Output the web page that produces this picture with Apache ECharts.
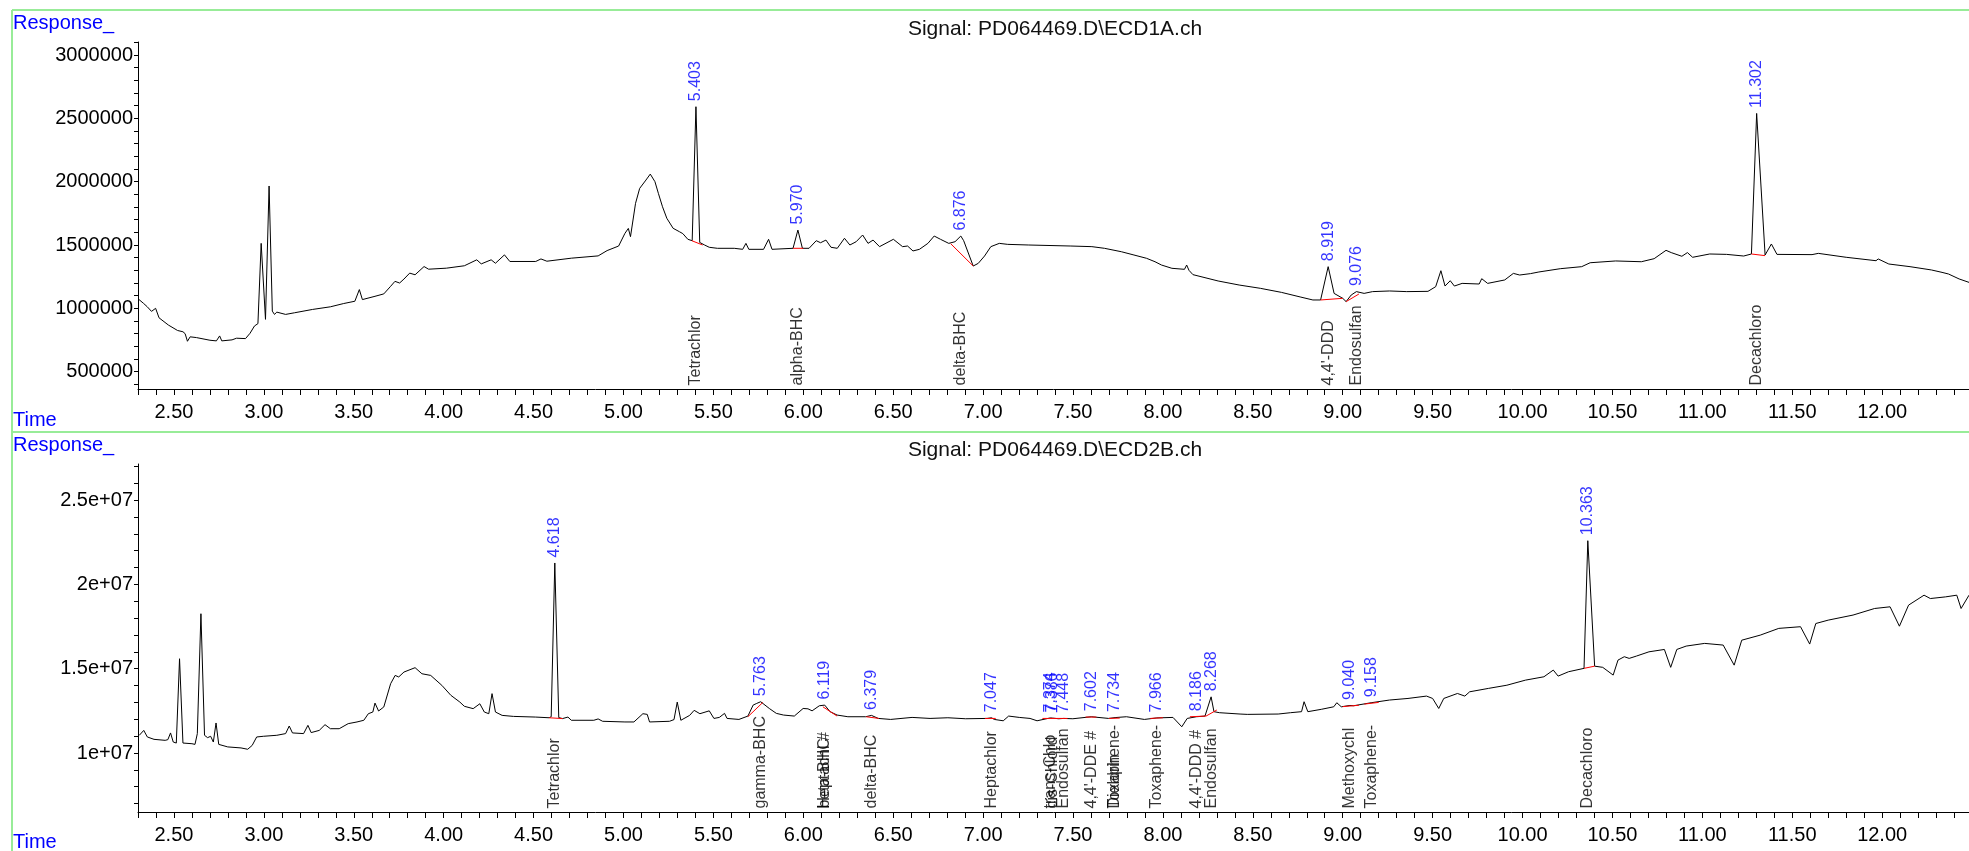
<!DOCTYPE html>
<html><head><meta charset="utf-8">
<script src="https://cdn.jsdelivr.net/npm/echarts@6/dist/echarts.min.js"></script>
<style>html,body{margin:0;padding:0;background:#fff}#c{width:1969px;height:851px}</style>
</head><body><div id="c"></div>
<script>
// ---------- Signal 1: ECD1A ----------
const t1 = [2.305,2.330,2.351,2.375,2.398,2.417,2.469,2.520,2.550,2.562,2.575,2.590,2.625,2.700,2.736,2.754,2.766,2.823,2.848,2.898,2.923,2.948,2.967,2.985,3.009,3.029,3.047,3.059,3.072,3.121,3.171,3.270,3.370,3.444,3.506,3.531,3.548,3.618,3.667,3.705,3.729,3.755,3.779,3.811,3.841,3.891,3.916,4.015,4.115,4.184,4.209,4.264,4.288,4.338,4.368,4.512,4.541,4.574,4.710,4.859,4.909,4.973,5.008,5.027,5.039,5.067,5.090,5.125,5.149,5.175,5.194,5.217,5.241,5.276,5.311,5.330,5.358,5.382,5.403,5.424,5.451,5.477,5.522,5.616,5.663,5.681,5.697,5.779,5.807,5.826,5.943,5.970,5.995,6.032,6.072,6.096,6.126,6.154,6.189,6.229,6.259,6.294,6.330,6.360,6.388,6.424,6.501,6.552,6.580,6.610,6.646,6.693,6.728,6.763,6.809,6.844,6.876,6.892,6.945,6.973,7.008,7.043,7.090,7.137,7.254,7.488,7.605,7.675,7.769,7.839,7.909,7.956,7.992,8.050,8.120,8.132,8.145,8.167,8.307,8.424,8.542,8.659,8.763,8.834,8.877,8.919,8.952,9.000,9.019,9.047,9.076,9.119,9.166,9.261,9.356,9.474,9.517,9.546,9.569,9.598,9.621,9.664,9.759,9.773,9.806,9.901,9.949,9.984,10.044,10.091,10.210,10.329,10.376,10.518,10.661,10.732,10.798,10.827,10.886,10.917,10.946,11.041,11.135,11.230,11.273,11.302,11.349,11.384,11.415,11.610,11.645,11.800,11.966,11.978,12.037,12.155,12.274,12.333,12.369,12.428,12.483];
const r1 = [1070000,1040000,1013000,976000,1000000,925000,868000,825000,815000,800000,740000,775000,769000,748000,743000,782000,743000,751000,764000,761000,803000,861000,879000,1513000,913000,1966000,978000,952000,970000,952000,965000,991000,1012000,1038000,1056000,1148000,1069000,1095000,1114000,1174000,1213000,1200000,1231000,1278000,1265000,1330000,1309000,1317000,1336000,1383000,1351000,1383000,1356000,1422000,1370000,1370000,1390000,1372000,1396000,1414000,1456000,1492000,1592000,1631000,1566000,1829000,1947000,2013000,2060000,2000000,1908000,1802000,1711000,1632000,1605000,1590000,1545000,1534000,2592000,1520000,1500000,1482000,1474000,1474000,1466000,1513000,1466000,1466000,1545000,1466000,1474000,1618000,1474000,1474000,1534000,1518000,1539000,1482000,1474000,1553000,1500000,1526000,1579000,1513000,1539000,1487000,1545000,1487000,1492000,1453000,1466000,1513000,1571000,1545000,1513000,1526000,1571000,1534000,1334000,1355000,1413000,1487000,1513000,1505000,1500000,1492000,1487000,1474000,1447000,1421000,1395000,1368000,1342000,1316000,1308000,1342000,1300000,1266000,1216000,1184000,1158000,1126000,1090000,1066000,1066000,1329000,1118000,1079000,1053000,1105000,1132000,1118000,1132000,1137000,1132000,1134000,1171000,1297000,1176000,1218000,1176000,1197000,1192000,1234000,1197000,1224000,1276000,1263000,1274000,1287000,1313000,1329000,1360000,1374000,1368000,1392000,1458000,1440000,1411000,1440000,1403000,1429000,1426000,1413000,1429000,2539000,1421000,1508000,1426000,1424000,1434000,1403000,1376000,1390000,1350000,1329000,1303000,1284000,1271000,1232000,1205000];
const peakRt1 = [5.403,5.970,6.876,8.919,9.076,11.302];
const peakH1 = [2592000,1618000,1571000,1329000,1132000,2539000];
const peakName1 = ["Tetrachlor","alpha-BHC","delta-BHC","4,4'-DDD","Endosulfan","Decachloro"];
const base1T0 = [5.380,5.943,6.820,8.877,9.019,11.273];
const base1V0 = [1534000,1474000,1510000,1066000,1053000,1429000];
const base1T1 = [5.440,6.000,6.945,9.000,9.090,11.349];
const base1V1 = [1500000,1474000,1334000,1079000,1113000,1416000];

// ---------- Signal 2: ECD2B ----------
const t2 = [2.307,2.332,2.352,2.389,2.451,2.466,2.481,2.496,2.513,2.531,2.550,2.600,2.617,2.630,2.650,2.670,2.687,2.704,2.719,2.734,2.749,2.799,2.873,2.910,2.935,2.960,2.997,3.072,3.121,3.141,3.159,3.221,3.245,3.263,3.308,3.340,3.370,3.419,3.469,3.518,3.556,3.581,3.606,3.618,3.638,3.667,3.705,3.730,3.750,3.779,3.841,3.879,3.928,3.990,4.040,4.090,4.115,4.164,4.201,4.226,4.251,4.269,4.288,4.325,4.388,4.512,4.586,4.598,4.618,4.640,4.661,4.691,4.710,4.835,4.859,4.884,5.008,5.058,5.108,5.132,5.145,5.256,5.281,5.299,5.319,5.368,5.393,5.425,5.477,5.503,5.533,5.562,5.576,5.642,5.692,5.721,5.741,5.763,5.811,5.850,5.890,5.950,5.999,6.026,6.049,6.089,6.119,6.128,6.149,6.188,6.248,6.347,6.379,6.417,6.486,6.605,6.705,6.804,6.903,7.022,7.047,7.062,7.112,7.142,7.201,7.261,7.300,7.374,7.386,7.420,7.448,7.499,7.602,7.698,7.734,7.797,7.897,7.966,8.056,8.105,8.135,8.186,8.234,8.268,8.284,8.314,8.429,8.469,8.641,8.710,8.771,8.785,8.806,8.881,8.950,8.967,8.992,9.040,9.060,9.158,9.260,9.363,9.466,9.500,9.534,9.562,9.638,9.679,9.706,9.810,9.913,10.016,10.119,10.171,10.198,10.256,10.342,10.363,10.401,10.446,10.504,10.531,10.566,10.593,10.634,10.703,10.789,10.824,10.858,10.910,11.013,11.116,11.177,11.219,11.322,11.425,11.546,11.597,11.631,11.700,11.838,11.958,12.044,12.096,12.147,12.233,12.268,12.353,12.415,12.439,12.483];
const r2 = [11047000,11340000,10950000,10810000,10750000,10790000,11190000,10650000,10590000,15590000,10590000,10550000,10510000,11150000,18260000,11050000,10910000,10990000,10650000,11780000,10510000,10360000,10300000,10220000,10450000,10950000,10990000,11050000,11150000,11600000,11190000,11150000,11640000,11210000,11340000,11680000,11440000,11440000,11740000,11840000,11940000,12330000,12430000,12960000,12490000,12730000,14110000,14600000,14510000,14800000,15060000,14700000,14600000,14010000,13420000,13020000,12770000,12630000,12920000,12430000,12330000,13520000,12430000,12230000,12170000,12130000,12090000,12150000,21270000,12100000,12040000,12130000,11940000,11940000,12020000,11880000,11840000,11840000,12330000,12290000,11840000,11880000,11980000,13020000,11940000,12230000,12530000,12330000,12500000,12050000,12110000,12350000,12050000,11990000,12190000,12840000,12940000,13040000,12640000,12350000,12250000,12190000,12640000,12620000,12500000,12800000,12840000,12780000,12450000,12250000,12150000,12150000,12230000,12050000,11990000,12110000,12050000,12090000,12030000,12050000,12090000,11990000,11910000,12190000,12110000,12050000,11910000,12080000,12070000,12030000,12050000,12030000,12150000,12050000,12100000,12150000,11990000,12080000,12110000,11555000,12050000,12150000,12190000,13330000,12450000,12390000,12310000,12290000,12310000,12390000,12450000,13040000,12450000,12590000,12740000,12980000,12740000,12820000,12800000,12980000,13140000,13235000,13375000,13235000,12640000,13235000,13530000,13375000,13630000,13830000,14020000,14320000,14520000,14917000,14560000,14820000,15020000,22590000,15150000,15080000,14620000,15510000,15710000,15610000,15750000,16000000,16140000,15080000,16140000,16340000,16500000,16400000,15210000,16690000,16990000,17390000,17490000,16460000,17680000,17880000,18180000,18570000,18670000,17520000,18770000,19360000,19160000,19260000,19360000,18570000,19360000];
const peakRt2 = [4.618,5.763,6.119,6.379,7.047,7.374,7.386,7.448,7.602,7.734,7.966,8.186,8.268,9.040,9.158,10.363];
const peakH2 = [21270000,13040000,12840000,12230000,12090000,12080000,12070000,12050000,12150000,12100000,12080000,12150000,13330000,12820000,12980000,22590000];
const nameRt2 = [4.618,5.763,6.119,6.119,6.379,7.047,7.374,7.386,7.448,7.602,7.734,7.734,7.966,8.186,8.268,9.040,9.158,10.363];
const name2 = ["Tetrachlor","gamma-BHC","beta-BHC","Heptachl #","delta-BHC","Heptachlor","trans-Chlo","cis-Chlord","Endosulfan","4,4'-DDE #","Dieldrin","Toxaphene-","Toxaphene-","4,4'-DDD #","Endosulfan","Methoxychl","Toxaphene-","Decachloro"];
const base2T0 = [4.586,5.692,6.109,6.350,7.010,7.330,7.570,7.700,7.930,8.150,8.240,9.000,9.120,10.342];
const base2V0 = [12090000,12150000,12740000,12150000,12050000,12050000,12130000,12050000,12050000,12150000,12190000,12750000,12900000,15020000];
const base2T1 = [4.661,5.775,6.188,6.420,7.070,7.470,7.630,7.760,8.000,8.240,8.300,9.090,9.200,10.401];
const base2V1 = [12040000,13000000,12190000,12050000,12050000,12050000,12130000,12070000,12090000,12190000,12550000,12830000,13000000,15150000];

// ---------- Axes ticks ----------
const xLabelVals = [2.5,3.0,3.5,4.0,4.5,5.0,5.5,6.0,6.5,7.0,7.5,8.0,8.5,9.0,9.5,10.0,10.5,11.0,11.5,12.0];
const y1LabelVals = [500000,1000000,1500000,2000000,2500000,3000000];
const y2LabelVals = [10000000,15000000,20000000,25000000];

const X_MIN = 2.30, X_MAX = 12.483;
const Y1_MIN = 363000, Y1_MAX = 3103000;
const Y2_MIN = 6500000, Y2_MAX = 27140000;
const FONT = "'Liberation Sans', Arial, sans-serif";

const xTickVals = []; for (let i = 23; i <= 124; i++) xTickVals.push(i / 10);
const y1TickVals = []; for (let v = 400000; v <= 3100000; v += 100000) y1TickVals.push(v);
const y2TickVals = []; for (let v = 7000000; v <= 27000000; v += 1000000) y2TickVals.push(v);

function mkX(gi) {
  return {type:'value', gridIndex:gi, min:X_MIN, max:X_MAX,
    axisLine:{show:true, onZero:false, lineStyle:{color:'#000', width:1}},
    axisTick:{show:true, length:6, customValues:xTickVals, lineStyle:{color:'#000', width:1}},
    axisLabel:{customValues:xLabelVals, formatter:v => v.toFixed(2), fontSize:20, color:'#000', margin:13, fontFamily:FONT},
    splitLine:{show:false}};
}
function mkY(gi, mn, mx, ticks, labels, fmt) {
  return {type:'value', gridIndex:gi, min:mn, max:mx,
    axisLine:{show:true, onZero:false, lineStyle:{color:'#000', width:1}},
    axisTick:{show:true, length:4, customValues:ticks, lineStyle:{color:'#000', width:1}},
    axisLabel:{customValues:labels, formatter:fmt, fontSize:20, color:'#000', margin:5, fontFamily:FONT},
    splitLine:{show:false}};
}

const series = [];
function labelSeries(idx, pts, texts, dist, color) {
  return {type:'scatter', xAxisIndex:idx, yAxisIndex:idx, symbolSize:1, silent:true, clip:false, z:4,
    itemStyle:{color:'rgba(0,0,0,0)'},
    data: pts.map((p,i)=>({value:p, label:{formatter:texts[i]}})),
    label:{show:true, position:'top', distance:dist, rotate:90, align:'left', verticalAlign:'middle',
      color:color, fontSize:16, fontFamily:FONT}};
}
function addPanel(idx, t, r, rts, hs, nrts, names, yMin, b0t, b0v, b1t, b1v) {
  series.push({type:'line', xAxisIndex:idx, yAxisIndex:idx, data:t.map((x,i)=>[x, r[i]]),
    showSymbol:false, symbol:'none', silent:true, z:2, lineStyle:{color:'#000', width:1}});
  for (let i = 0; i < b0t.length; i++) {
    series.push({type:'line', xAxisIndex:idx, yAxisIndex:idx, data:[[b0t[i], b0v[i]],[b1t[i], b1v[i]]],
      showSymbol:false, symbol:'none', silent:true, z:3, lineStyle:{color:'#ff0000', width:1}});
  }
  series.push(labelSeries(idx, rts.map((x,i)=>[x, hs[i]]), rts.map(x=>x.toFixed(3)), 5, '#0000ff'));
  series.push(labelSeries(idx, nrts.map(x=>[x, yMin]), names, 3, '#000'));
}
addPanel(0, t1, r1, peakRt1, peakH1, peakRt1, peakName1, Y1_MIN, base1T0, base1V0, base1T1, base1V1);
addPanel(1, t2, r2, peakRt2, peakH2, nameRt2, name2, Y2_MIN, base2T0, base2V0, base2T1, base2V1);

const green = '#98ec98';
const option = {
  animation:false,
  backgroundColor:'#fff',
  grid:[{left:138, top:42, right:0, height:347}, {left:138, top:464, right:0, height:348}],
  xAxis:[mkX(0), mkX(1)],
  yAxis:[mkY(0, Y1_MIN, Y1_MAX, y1TickVals, y1LabelVals, v => String(v)),
         mkY(1, Y2_MIN, Y2_MAX, y2TickVals, y2LabelVals, v => (v/1e7) + 'e+07')],
  series: series,
  graphic:[
    {type:'line', silent:true, shape:{x1:12,y1:10,x2:1969,y2:10}, style:{stroke:green, lineWidth:2}},
    {type:'line', silent:true, shape:{x1:12,y1:10,x2:12,y2:851}, style:{stroke:green, lineWidth:2}},
    {type:'line', silent:true, shape:{x1:12,y1:432,x2:1969,y2:432}, style:{stroke:green, lineWidth:2}},
    {type:'text', silent:true, x:13, y:23, style:{text:'Response_', fill:'#0000ff', fontSize:20, fontFamily:FONT, align:'left', verticalAlign:'middle'}},
    {type:'text', silent:true, x:13, y:420, style:{text:'Time', fill:'#0000ff', fontSize:20, fontFamily:FONT, align:'left', verticalAlign:'middle'}},
    {type:'text', silent:true, x:13, y:445, style:{text:'Response_', fill:'#0000ff', fontSize:20, fontFamily:FONT, align:'left', verticalAlign:'middle'}},
    {type:'text', silent:true, x:13, y:842, style:{text:'Time', fill:'#0000ff', fontSize:20, fontFamily:FONT, align:'left', verticalAlign:'middle'}},
    {type:'text', silent:true, x:1055, y:29, style:{text:'Signal: PD064469.D\\ECD1A.ch', fill:'#111', fontSize:21, fontFamily:FONT, align:'center', verticalAlign:'middle'}},
    {type:'text', silent:true, x:1055, y:450, style:{text:'Signal: PD064469.D\\ECD2B.ch', fill:'#111', fontSize:21, fontFamily:FONT, align:'center', verticalAlign:'middle'}}
  ]
};
const chart = echarts.init(document.getElementById('c'), null, {renderer:'canvas'});
chart.setOption(option);
</script>
</body></html>
